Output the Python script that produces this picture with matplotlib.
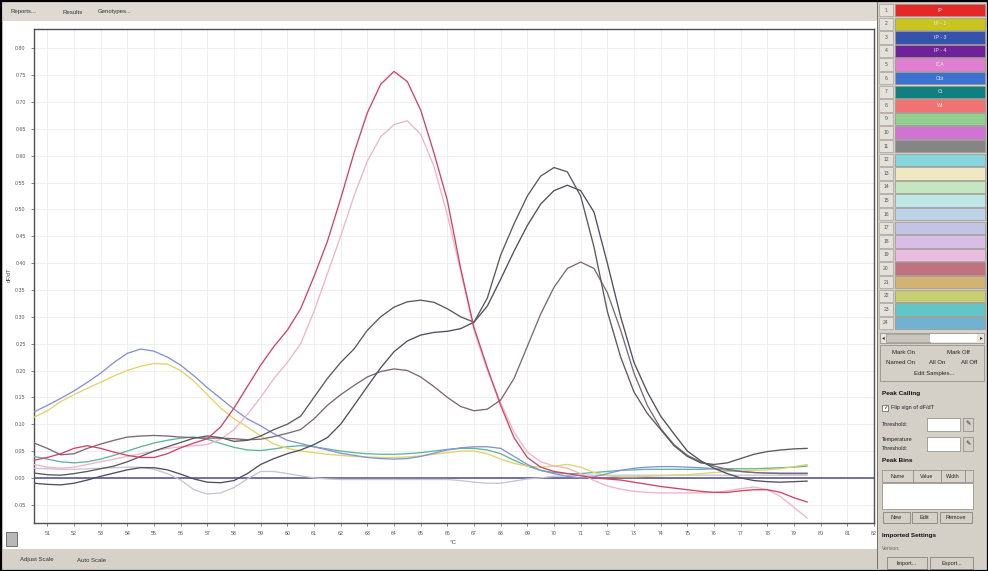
import numpy as np
import matplotlib
matplotlib.use("Agg")
import matplotlib.pyplot as plt
from matplotlib.patches import Rectangle

plt.rcParams['font.family'] = ['Liberation Sans', 'DejaVu Sans']

# melt curve samples, every 0.5 degC from 50.5 to 79.5
temps = np.arange(50.5, 79.75, 0.5)

red = [.033, .038, .045, .055, .060, .055, .048, .042, .038, .038,
       .045, .056, .065, .073, .095, .130, .170, .210, .245, .275,
       .315, .375, .440, .520, .605, .680, .733, .757, .738, .685,
       .605, .517, .390, .280, .205, .135, .075, .038, .020, .012,
       .008, .004, .000, -.002, -.004, -.008, -.012, -.016, -.019, -.022,
       -.025, -.027, -.027, -.024, -.022, -.022, -.027, -.037, -.045]

pink = [.025, .020, .018, .020, .025, .030, .035, .040, .045, .050,
        .055, .058, .060, .062, .072, .090, .118, .150, .185, .215,
        .250, .310, .380, .450, .525, .590, .635, .658, .665, .640,
        .580, .490, .385, .275, .200, .140, .085, .048, .030, .022,
        .018, .008, -.005, -.015, -.021, -.025, -.027, -.028, -.028, -.028,
        -.028, -.027, -.024, -.020, -.017, -.022, -.035, -.055, -.075]

dark_b = [.009, .006, .005, .008, .012, .017, .022, .030, .040, .050,
          .058, .066, .074, .078, .075, .068, .070, .078, .090, .100,
          .115, .150, .185, .215, .240, .275, .300, .318, .328, .331,
          .327, .315, .300, .290, .335, .415, .473, .525, .562, .578,
          .570, .525, .430, .310, .225, .160, .120, .090, .060, .040,
          .028, .025, .028, .036, .044, .049, .052, .054, .055]

dark_c = [-.010, -.012, -.013, -.010, -.004, .003, .009, .015, .019, .019,
          .015, .007, -.002, -.008, -.009, -.005, .008, .025, .036, .045,
          .052, .062, .075, .100, .135, .170, .205, .235, .255, .266,
          .271, .273, .278, .290, .320, .370, .422, .470, .510, .535,
          .545, .535, .495, .400, .300, .215, .160, .115, .082, .050,
          .032, .018, .008, .000, -.005, -.007, -.008, -.007, -.006]

mauve = [.065, .055, .043, .045, .055, .063, .070, .076, .078, .079,
         .078, .076, .075, .074, .074, .073, .071, .072, .077, .083,
         .090, .110, .135, .155, .172, .188, .198, .203, .200, .188,
         .170, .150, .133, .125, .128, .145, .185, .245, .305, .355,
         .390, .402, .390, .345, .275, .195, .135, .092, .062, .042,
         .030, .022, .016, .012, .010, .009, .008, .008, .008]

blue = [.123, .135, .148, .162, .178, .195, .215, .232, .240, .236,
        .225, .210, .190, .168, .148, .128, .110, .097, .082, .070,
        .064, .058, .052, .046, .042, .038, .036, .035, .036, .040,
        .046, .052, .056, .058, .058, .055, .040, .025, .014, .008,
        .003, .000, .002, .008, .014, .018, .020, .021, .021, .020,
        .019, .017, .014, .012, .010, .009, .009, .009, .009]

yellow = [.113, .125, .142, .155, .167, .178, .190, .200, .208, .213,
          .212, .200, .180, .155, .130, .110, .095, .078, .063, .055,
          .050, .047, .044, .042, .040, .039, .038, .038, .039, .041,
          .044, .047, .050, .050, .045, .035, .027, .022, .020, .022,
          .025, .020, .010, .004, .002, .002, .003, .004, .005, .006,
          .008, .010, .012, .013, .014, .015, .017, .021, .025]

green = [.040, .035, .030, .028, .030, .035, .042, .050, .058, .065,
         .070, .074, .076, .072, .064, .057, .052, .051, .054, .058,
         .060, .058, .054, .050, .047, .045, .044, .044, .045, .047,
         .050, .053, .055, .055, .052, .045, .033, .022, .014, .010,
         .008, .008, .010, .012, .014, .015, .016, .016, .016, .016,
         .016, .017, .017, .017, .017, .018, .019, .020, .022]

lgrey = [.018, .017, .016, .016, .017, .018, .019, .020, .020, .016,
         .008, -.004, -.022, -.030, -.028, -.018, -.002, .012, .012, .008,
         .004, .000, -.002, -.003, -.003, -.003, -.003, -.003, -.003, -.003,
         -.003, -.003, -.005, -.008, -.010, -.010, -.006, -.002, .000, .003,
         .004, .005, .005, .005, .005, .005, .005, .005, .005, .005,
         .005, .005, .005, .005, .005, .005, .005, .005, .005]

curves = [
    (lgrey, '#c9c3d6'), (green, '#5fb59c'), (yellow, '#e2d36a'),
    (blue, '#8592d2'), (pink, '#f2b3c8'), (mauve, '#7e6873'),
    (dark_c, '#4f4f60'), (dark_b, '#5a5a5a'), (red, '#cf4464'),
]

x_ticks = list(range(51, 83))
y_ticks = [-0.05, 0.00, 0.05, 0.10, 0.15, 0.20, 0.25, 0.30, 0.35, 0.40,
           0.45, 0.50, 0.55, 0.60, 0.65, 0.70, 0.75, 0.80]

sample_colors = ['#e42828', '#c9c51e', '#3552ad', '#6e2198', '#e07ed2', '#3c72cf',
                 '#0f7f7f', '#f17272', '#93cf8f', '#d173d2', '#858585', '#86d6de',
                 '#efe8c2', '#c4e6c0', '#bde6e4', '#bcd2e6', '#c3c3e6', '#d9bde6',
                 '#e8bde0', '#c2717f', '#d2b374', '#c7cf72', '#63c6c6', '#72b2d0']
sample_names = ['IP', 'IP - 2', 'IP - 3', 'IP - 4', 'ICA', 'Cbt', 'Ct', 'Wt']

W, H = 988, 571
fig = plt.figure(figsize=(9.88, 5.71), dpi=100)
fig.patch.set_facecolor('#d4d0c8')
bg = fig.add_axes([0, 0, 1, 1])
bg.set_xlim(0, W)
bg.set_ylim(H, 0)
bg.axis('off')


def box(x, y, w, h, fc, ec='none', lw=0.7, z=1):
    bg.add_patch(Rectangle((x, y), w, h, facecolor=fc, edgecolor=ec, linewidth=lw, zorder=z))


def txt(x, y, s, size=4.3, **kw):
    bg.text(x, y, s, fontsize=size, va='center', zorder=5, **kw)


# window parts
box(0, 0, W, H, '#d4d0c8')
box(2, 2, 876, 19, '#dedad3')
box(3, 21, 874, 528, 'white')
box(2, 549, 876, 20, '#d6d2ca')
txt(10, 12, 'Reports...', color='#333333')
txt(62, 12, 'Results', color='#333333')
txt(98, 12, 'Genotypes...', color='#333333')
txt(20, 560, 'Adjust Scale', color='#333333')
txt(77, 560, 'Auto Scale', color='#333333')
box(6, 532, 11, 14, '#b8b8b8', ec='#707070')
bg.text(9, 275, 'dF/dT', fontsize=4, rotation=90, ha='center', va='center', color='#444444')
bg.text(453, 543, '°C', fontsize=4.5, ha='center', va='center', color='#444444')

# sample list
row_h = 13.6
for i, c in enumerate(sample_colors):
    y = 4 + i * row_h
    box(879, y, 14, row_h - 1.2, '#e4e1da', ec='#a8a49c', lw=0.5)
    txt(886, y + row_h / 2 - 0.6, str(i + 1), size=3.6, ha='center', color='#555555')
    box(895, y, 90, row_h - 1.2, c, ec='#9a968e', lw=0.5)
    if i < len(sample_names):
        txt(940, y + row_h / 2 - 0.6, sample_names[i], size=3.8, ha='center', color='#e8e8e8')
box(880, 333, 104, 10, '#e8e6e0', ec='#8a867e', lw=0.5)
box(886, 334, 44, 8, '#c8c5be', ec='#8a867e', lw=0.4)
box(930, 334, 47, 8, 'white')
txt(883, 338, '◂', size=4, ha='center', color='#333333')
txt(981, 338, '▸', size=4, ha='center', color='#333333')
box(880, 345, 104, 36, '#d4d0c8', ec='#8a867e', lw=0.5)
txt(903, 352, 'Mark On', ha='center', color='#222222')
txt(958, 352, 'Mark Off', ha='center', color='#222222')
txt(901, 363, 'Named On', ha='center', color='#222222')
txt(937, 363, 'All On', ha='center', color='#222222')
txt(969, 363, 'All Off', ha='center', color='#222222')
txt(934, 374, 'Edit Samples...', ha='center', color='#222222')

# peak calling
txt(882, 393, 'Peak Calling', size=4.6, weight='bold', color='#111111')
box(882, 405, 6, 6, 'white', ec='#555555', lw=0.5)
txt(885, 408, '✓', size=4, ha='center', color='#111111')
txt(891, 408, 'Flip sign of dF/dT', size=4, color='#222222')
txt(882, 424, 'Threshold:', size=4, color='#222222')
box(927, 418, 33, 13, 'white', ec='#8a867e', lw=0.5)
box(963, 418, 10, 13, '#d4d0c8', ec='#8a867e', lw=0.5)
txt(968, 424, '✎', size=4.5, ha='center', color='#222222')
txt(882, 439, 'Temperature', size=4, color='#222222')
txt(882, 448, 'Threshold:', size=4, color='#222222')
box(927, 437, 33, 14, 'white', ec='#8a867e', lw=0.5)
box(963, 437, 10, 14, '#d4d0c8', ec='#8a867e', lw=0.5)
txt(968, 444, '✎', size=4.5, ha='center', color='#222222')
txt(882, 461, 'Peak Bins', size=4.6, weight='bold', color='#111111')
for x0, w0, s in [(882, 31, 'Name'), (913, 28, 'Value'), (941, 24, 'Width'), (965, 8, '')]:
    box(x0, 470, w0, 12, '#d8d4cc', ec='#8a867e', lw=0.5)
    txt(x0 + w0 / 2, 476, s, size=3.8, ha='center', color='#222222')
box(882, 483, 91, 26, 'white', ec='#8a867e', lw=0.5)
for x0, w0, s in [(883, 27, 'New'), (912, 25, 'Edit'), (940, 32, 'Remove')]:
    box(x0, 512, w0, 11, '#d4d0c8', ec='#77736b', lw=0.5)
    txt(x0 + w0 / 2, 517.5, s, size=4, ha='center', color='#222222')
txt(882, 536, 'Imported Settings', size=4.6, weight='bold', color='#111111')
txt(882, 548, 'Version:', size=3.6, color='#666666')
for x0, w0, s in [(887, 40, 'Import...'), (930, 43, 'Export...')]:
    box(x0, 557, w0, 12, '#d4d0c8', ec='#77736b', lw=0.5)
    txt(x0 + w0 / 2, 563, s, size=4, ha='center', color='#222222')
box(877, 2, 1.2, 567, '#77736b')
box(0.5, 0.5, W - 1, H - 1, 'none', ec='black', lw=1.6, z=6)

# chart
ax = fig.add_axes([34 / W, 1 - 523 / H, 840 / W, 494 / H])
ax.set_facecolor('white')
for vals, col in curves:
    ax.plot(temps, vals, color=col, lw=0.95, zorder=3,
            solid_joinstyle='round', solid_capstyle='round')
ax.axhline(0, color='#4d4d86', lw=1.1, zorder=2)
ax.set_xlim(50.5, 82.0)
ax.set_ylim(-0.084, 0.836)
ax.set_xticks(x_ticks)
ax.set_xticklabels([str(t) for t in x_ticks])
ax.set_yticks(y_ticks)
ax.set_yticklabels(['%.2f' % v for v in y_ticks])
ax.tick_params(labelsize=3.8, length=2, width=0.5, colors='#555555', pad=4)
ax.grid(True, color='#ececec', lw=0.6)
ax.set_axisbelow(True)
for s in ax.spines.values():
    s.set_color('#505050')
    s.set_linewidth(1.0)

fig.savefig('out.png', dpi=100)
